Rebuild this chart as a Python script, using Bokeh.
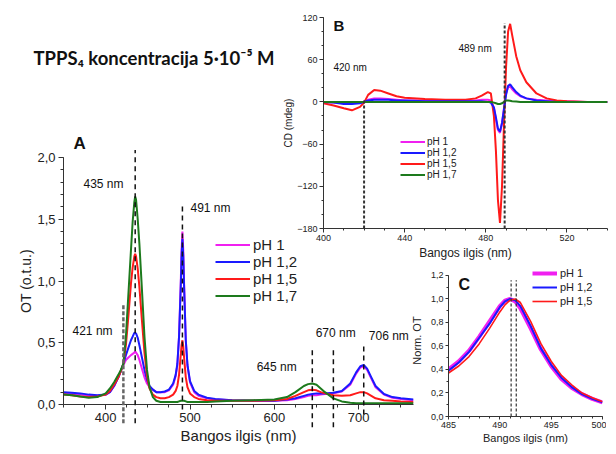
from bokeh.plotting import figure
from bokeh.models import (Range1d, FixedTicker, CustomJSTickFormatter, Label, Legend,
                          LegendItem, Arrow, ColumnDataSource)
from bokeh.embed import file_html
from bokeh.resources import INLINE

FONT = "Liberation Sans"
TXT = "#222222"
AX = "#333333"
PAGE = 8  # body margin: absolute positions are taken from the page corner

# ---------------- data: panel A (absorption) ----------------
series_names = ["pH 1", "pH 1,2", "pH 1,5", "pH 1,7"]
colors = ["#f020f0", "#1a1aff", "#ff1a1a", "#1d7a1d"]

xa = [350, 360, 370, 380, 390, 400, 405, 410, 415, 418, 421, 424, 427, 430, 432,
      434, 435, 436, 438, 440, 443, 446, 449, 452, 456, 460, 465, 470, 475, 480,
      483, 485, 487, 489, 490, 491, 492, 493, 495, 497, 500, 505, 510, 520, 530,
      550, 575, 600, 615, 625, 635, 640, 645, 650, 655, 660, 670, 680, 690, 697,
      702, 706, 710, 715, 720, 730, 740, 750, 765]
a_ph1 = [0.09, 0.085, 0.08, 0.07, 0.07, 0.08, 0.10, 0.15, 0.22, 0.27, 0.32, 0.36, 0.38, 0.40, 0.41,
         0.42, 0.43, 0.42, 0.40, 0.36, 0.29, 0.22, 0.17, 0.14, 0.12, 0.10, 0.10, 0.10, 0.115, 0.16,
         0.23, 0.32, 0.55, 0.98, 1.25, 1.40, 1.25, 0.98, 0.52, 0.31, 0.18, 0.10, 0.07, 0.05, 0.04,
         0.035, 0.03, 0.03, 0.035, 0.045, 0.06, 0.07, 0.075, 0.075, 0.08, 0.085, 0.09, 0.105, 0.16, 0.25,
         0.30, 0.31, 0.28, 0.21, 0.14, 0.08, 0.055, 0.045, 0.035]
a_ph12 = [0.10, 0.095, 0.09, 0.08, 0.075, 0.08, 0.10, 0.15, 0.22, 0.27, 0.33, 0.40, 0.46, 0.52, 0.55,
          0.58, 0.58, 0.575, 0.54, 0.48, 0.38, 0.28, 0.20, 0.15, 0.12, 0.10, 0.10, 0.105, 0.12, 0.17,
          0.24, 0.33, 0.55, 0.95, 1.20, 1.34, 1.20, 0.95, 0.52, 0.32, 0.19, 0.11, 0.08, 0.055, 0.045,
          0.035, 0.03, 0.03, 0.04, 0.05, 0.07, 0.08, 0.085, 0.09, 0.09, 0.09, 0.095, 0.11, 0.17, 0.26,
          0.31, 0.32, 0.29, 0.22, 0.15, 0.085, 0.06, 0.05, 0.04]
a_ph15 = [0.08, 0.075, 0.065, 0.06, 0.065, 0.08, 0.11, 0.16, 0.22, 0.27, 0.33, 0.48, 0.72, 0.98, 1.11,
          1.20, 1.22, 1.20, 1.10, 0.95, 0.68, 0.42, 0.23, 0.13, 0.08, 0.06, 0.05, 0.05, 0.06, 0.08,
          0.11, 0.15, 0.24, 0.40, 0.48, 0.52, 0.47, 0.38, 0.22, 0.14, 0.09, 0.06, 0.045, 0.035, 0.03,
          0.03, 0.03, 0.035, 0.045, 0.07, 0.10, 0.115, 0.12, 0.115, 0.10, 0.09, 0.075, 0.07, 0.075, 0.09,
          0.10, 0.10, 0.09, 0.07, 0.05, 0.035, 0.03, 0.025, 0.02]
a_ph17 = [0.08, 0.075, 0.065, 0.055, 0.06, 0.09, 0.13, 0.18, 0.24, 0.28, 0.33, 0.55, 0.90, 1.25, 1.48,
          1.64, 1.685, 1.66, 1.50, 1.30, 0.93, 0.55, 0.28, 0.14, 0.06, 0.03, 0.02, 0.02, 0.02, 0.02,
          0.02, 0.02, 0.025, 0.03, 0.03, 0.03, 0.03, 0.03, 0.025, 0.02, 0.02, 0.02, 0.02, 0.02, 0.025,
          0.03, 0.035, 0.04, 0.06, 0.10, 0.15, 0.165, 0.17, 0.16, 0.13, 0.10, 0.05, 0.025, 0.015, 0.01,
          0.01, 0.01, 0.01, 0.01, 0.01, 0.01, 0.01, 0.01, 0.01]
a_series = [a_ph1, a_ph12, a_ph15, a_ph17]

a_xticks = [400, 500, 600, 700]
a_yticks = [0.0, 0.5, 1.0, 1.5, 2.0]
a_mark_text = ["435 nm", "491 nm", "421 nm", "645 nm", "670 nm", "706 nm"]
a_mark_x = [373.7, 500.6, 360.7, 579.0, 649.0, 712.0]
a_mark_y = [1.79, 1.60, 0.62, 0.34, 0.61, 0.58]
a_dash_nm = [435, 491, 645, 670, 706]
a_dash_top = [2.06, 1.62, 0.47, 0.47, 0.52]
a_dash_bot = [-0.11, 0.0, -0.14, -0.14, -0.04]
a_iso_nm = [421]
a_iso_top = [0.84]
a_iso_bot = [-0.11]

# ---------------- data: panel B (CD) ----------------
xb = [400, 405, 410, 414, 418, 420, 422, 425, 428, 432, 436, 440, 450, 460, 470, 475, 478,
      481, 482.5, 484, 485, 486, 487, 488, 489, 490, 491, 492, 493, 495, 497, 500, 505,
      510, 515, 520, 530, 540]
b_ph1 = [0, -1, -2, -2, -1, 0, 3, 5, 5, 4, 3, 2, 2, 2, 2, 2, 3,
         3, 2, -8, -25, -40, -44, -30, -8, 12, 21, 22, 18, 12, 8, 5, 3,
         2, 1, 1, None, None]
b_ph12 = [0, -1, -3, -3, -2, 0, 2, 3, 3, 3, 2, 2, 1, 1, 1, 1, 1,
          0, -1, -8, -22, -38, -42, -30, -10, 10, 23, 25, 21, 14, 9, 5, 2,
          1, 0, 0, 0, 0]
b_ph15 = [-2, -5, -9, -12, -7, -1, 10, 17, 16, 12, 8, 6, 4, 3, 3, 5, 9,
          14, 12, -20, -70, -140, -172, -120, -30, 50, 100, 111, 95, 65, 45, 28, 12,
          5, 2, 1, None, None]
b_ph17 = [0, 0, 0, 0, 0, 0, 0, 0, 0, 0, 0, 0, 0, 0, 0, 0, 0,
          0, 0, -1, -2, -3, -3, -2, 0, 2, 2, 1.5, 1, 0.5, 0, 0, 0,
          0, 0, 0, 0, 0]
b_series = [b_ph1, b_ph12, b_ph15, b_ph17]
b_xticks = [400, 440, 480, 520]
b_yticks = [-180, -120, -60, 0, 60, 120]
b_dash_nm = [420, 489.3]
b_dash_top = [3, 112]
b_dash_bot = [-180, -180]

# ---------------- data: panel C (normalised) ----------------
xc = [485, 486, 487, 488, 489, 490, 490.5, 491, 491.5, 492, 493, 494, 495, 496, 497, 498, 499, 500]
c_ph1 = [0.40, 0.47, 0.56, 0.68, 0.81, 0.94, 0.985, 1.0, 0.98, 0.92, 0.75, 0.57, 0.43, 0.32, 0.245, 0.19, 0.15, 0.12]
c_ph12 = [0.39, 0.46, 0.55, 0.67, 0.79, 0.93, 0.98, 1.0, 0.99, 0.94, 0.77, 0.58, 0.44, 0.33, 0.25, 0.19, 0.15, 0.12]
c_ph15 = [0.37, 0.43, 0.51, 0.62, 0.75, 0.89, 0.95, 0.99, 1.0, 0.97, 0.81, 0.62, 0.47, 0.35, 0.27, 0.20, 0.16, 0.125]
c_series = [c_ph1, c_ph12, c_ph15]
c_xticks = [485, 490, 495, 500]
c_yticks = [0.0, 0.2, 0.4, 0.6, 0.8, 1.0, 1.2]
c_dash_nm = [491.1, 491.6]
c_dash_top = [1.16, 1.16]
c_dash_bot = [0.0, 0.0]


def comma():
    return CustomJSTickFormatter(code="return tick.toFixed(1).replace('.', ',');")


def base_fig(w, h, xr, yr, ml, mr, mt, mb, left, top, axes=True):
    kw = {} if axes else dict(x_axis_type=None, y_axis_type=None)
    p = figure(width=w, height=h, x_range=Range1d(*xr), y_range=Range1d(*yr),
               output_backend="svg", toolbar_location=None,
               min_border_left=ml, min_border_right=mr, min_border_top=mt, min_border_bottom=mb,
               styles={"position": "absolute", "left": f"{left + PAGE}px", "top": f"{top + PAGE}px"},
               **kw)
    p.background_fill_color = None
    p.border_fill_color = None
    p.outline_line_color = None
    p.grid.visible = False
    return p


def style_axis(ax, lab_size, title_size, tick_out, lab_standoff, title_standoff):
    ax.axis_line_color = AX
    ax.major_tick_line_color = AX
    ax.minor_tick_line_color = AX
    ax.major_tick_out = tick_out
    ax.major_tick_in = 0
    ax.minor_tick_out = max(2, tick_out - 2)
    ax.minor_tick_in = 0
    ax.major_label_text_font = FONT
    ax.major_label_text_font_size = lab_size
    ax.major_label_text_color = TXT
    ax.major_label_standoff = lab_standoff
    ax.axis_label_text_font = FONT
    ax.axis_label_text_font_size = title_size
    ax.axis_label_text_font_style = "normal"
    ax.axis_label_text_color = TXT
    ax.axis_label_standoff = title_standoff


def dashes(p, xs, tops, bots, color, width, dash):
    src = ColumnDataSource(dict(x=xs, y0=bots, y1=tops))
    p.add_layout(Arrow(end=None, source=src, x_start="x", y_start="y0", x_end="x", y_end="y1",
                       line_color=color, line_width=width, line_dash=dash))


def add_label(p, x, y, text, size, bold=False, font=FONT):
    p.add_layout(Label(x=x, y=y, text=text, text_font=font, text_font_size=size,
                       text_font_style="bold" if bold else "normal", text_color="#111111",
                       text_baseline="middle", text_align="left"))


# ---------------- panel B ----------------
pB = base_fig(329, 254, (400, 540), (-180, 120), 44, 1, 9, 34, 271, 0)
pB.xaxis.ticker = FixedTicker(ticks=b_xticks, minor_ticks=list(range(400, 541, 10)))
pB.yaxis.ticker = FixedTicker(ticks=b_yticks, minor_ticks=list(range(-180, 121, 20)))
pB.xaxis.axis_label = "Bangos ilgis (nm)"
pB.yaxis.axis_label = "CD (mdeg)"
style_axis(pB.xaxis[0], "9px", "12px", 4, 2, 2)
style_axis(pB.yaxis[0], "9px", "10px", 4, 2, 0)
rb = {}
for i in [0, 2, 1, 3]:
    rb[i] = pB.line(xb, b_series[i], line_color=colors[i], line_width=2)
dashes(pB, b_dash_nm, b_dash_top, b_dash_bot, "#333333", 2, "3 2")
add_label(pB, 404.9, 108.6, "B", "15px", bold=True)
add_label(pB, 404.9, 48.9, "420 nm", "10px")
add_label(pB, 466.5, 75.9, "489 nm", "10px")
legB = Legend(items=[LegendItem(label=series_names[i], renderers=[rb[i]]) for i in range(4)],
              location=(77, 48), padding=0, margin=0, spacing=0, glyph_width=25, glyph_height=11,
              label_height=11, label_standoff=2, label_text_font=FONT, label_text_font_size="10px",
              label_text_color=TXT, border_line_color=None, background_fill_alpha=0)
pB.add_layout(legB)

# ---------------- panel C ----------------
pC = base_fig(201, 188, (485, 500), (0, 1.2936), 43, 4, 6, 30, 397, 250)
pC.xaxis.ticker = FixedTicker(ticks=c_xticks, minor_ticks=list(range(485, 501)))
pC.yaxis.ticker = FixedTicker(ticks=c_yticks, minor_ticks=[i / 10 for i in range(13)])
pC.yaxis.bounds = (0, 1.2)
pC.yaxis.formatter = comma()
pC.xaxis.axis_label = "Bangos ilgis (nm)"
pC.yaxis.axis_label = "Norm. OT"
style_axis(pC.xaxis[0], "9px", "11px", 3, 2, 1)
style_axis(pC.yaxis[0], "9px", "11px", 3, 2, 5)
c_widths = [4, 2, 1.6]
rc = []
for i in range(3):
    rc.append(pC.line(xc, c_series[i], line_color=colors[i], line_width=c_widths[i]))
dashes(pC, c_dash_nm, c_dash_top, c_dash_bot, "#333333", 1.2, "3 2")
add_label(pC, 485.97, 1.123, "C", "16px", bold=True)
legC = Legend(items=[LegendItem(label=series_names[i], renderers=[rc[i]]) for i in range(3)],
              location=(84, 108), padding=0, margin=0, spacing=0, glyph_width=25, glyph_height=14,
              label_height=14, label_standoff=3, label_text_font=FONT, label_text_font_size="11px",
              label_text_color=TXT, border_line_color=None, background_fill_alpha=0)
pC.add_layout(legC)

# ---------------- panel A: axes and spectra ----------------
A_W, A_H, A_ML, A_MR, A_MT, A_MB = 415, 438, 55, 10, 149, 37
A_X, A_Y = (350, 765), (0, 2.0)
pA = base_fig(A_W, A_H, A_X, A_Y, A_ML, A_MR, A_MT, A_MB, 0, 0)
pA.xaxis.ticker = FixedTicker(ticks=a_xticks, minor_ticks=list(range(350, 766, 25)))
pA.yaxis.ticker = FixedTicker(ticks=a_yticks, minor_ticks=[i / 10 for i in range(21)])
pA.yaxis.formatter = comma()
pA.xaxis.axis_label = "Bangos ilgis (nm)"
pA.yaxis.axis_label = "OT (o.t.u.)"
style_axis(pA.xaxis[0], "13px", "15px", 5, 3, 2)
style_axis(pA.yaxis[0], "13px", "14px", 5, 3, 0)
ra = []
for i in range(4):
    ra.append(pA.line(xa, a_series[i], line_color=colors[i], line_width=2))
legA = Legend(items=[LegendItem(label=series_names[i], renderers=[ra[i]]) for i in range(4)],
              location=(152, 100), padding=0, margin=0, spacing=0, glyph_width=35, glyph_height=17,
              label_height=17, label_standoff=3, label_text_font=FONT, label_text_font_size="15px",
              label_text_color=TXT, border_line_color=None, background_fill_alpha=0)
pA.add_layout(legA)

# ---------------- panel A overlay: same data scale, frame = whole canvas ----------------
sx = (A_W - A_ML - A_MR) / (A_X[1] - A_X[0])
sy = (A_H - A_MT - A_MB) / (A_Y[1] - A_Y[0])
ox = (A_X[0] - A_ML / sx, A_X[1] + A_MR / sx)
oy = (A_Y[0] - A_MB / sy, A_Y[1] + A_MT / sy)
pO = base_fig(A_W, A_H, ox, oy, 0, 0, 0, 0, 0, 0, axes=False)
dashes(pO, a_iso_nm, a_iso_top, a_iso_bot, "#666666", 2.5, "4 2")
dashes(pO, a_dash_nm, a_dash_top, a_dash_bot, "#111111", 1.5, "5 4")
for t, x, y in zip(a_mark_text, a_mark_x, a_mark_y):
    add_label(pO, x, y, t, "12px")
add_label(pO, 361.9, 2.111, "A", "17px", bold=True)
add_label(pO, 314.4, 2.786, "TPPS\u2084 koncentracija 5\u00b710\u207b\u2075 M", "18.5px", bold=True, font="Lato")

# separate roots: no shared layout, so no frame alignment between the panels
with open("out.html", "w", encoding="utf-8") as f:
    f.write(file_html([pB, pC, pA, pO], INLINE))
